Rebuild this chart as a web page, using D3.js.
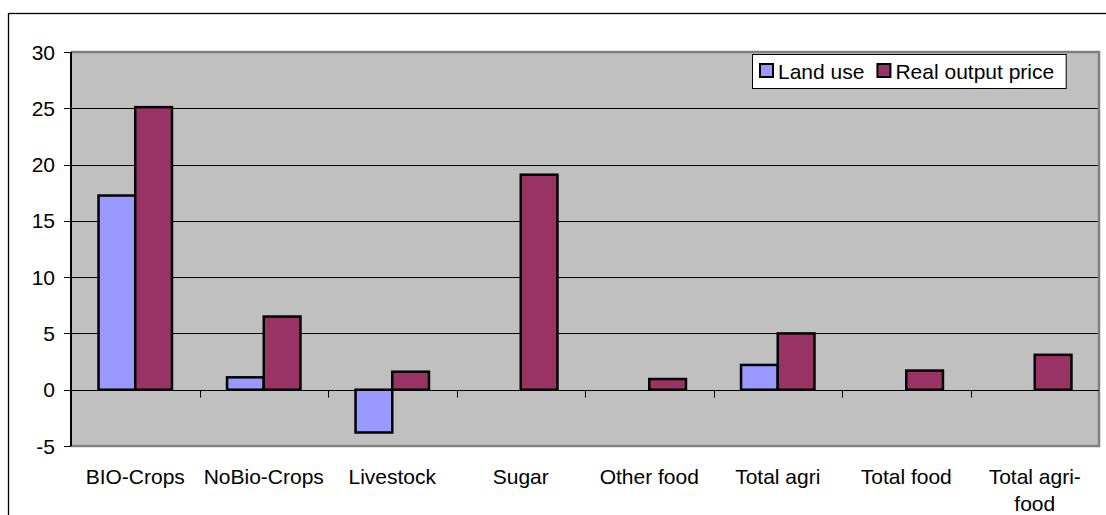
<!DOCTYPE html>
<html>
<head>
<meta charset="utf-8">
<script src="https://cdn.jsdelivr.net/npm/d3@7"></script>
<style>
  body { margin: 0; background: #fff; }
  text { font-family: "Liberation Sans", Arial, sans-serif; fill: #000; }
</style>
</head>
<body>
<div id="chart"></div>
<script>
// ---------------- DATA ----------------
const categories = ["BIO-Crops", "NoBio-Crops", "Livestock", "Sugar", "Other food", "Total agri", "Total food", "Total agri-food"];
const seriesNames = ["Land use", "Real output price"];
const landUse = [17.25, 1.1, -3.8, 0, 0, 2.2, 0, 0];
const realOutputPrice = [25.1, 6.5, 1.6, 19.1, 0.95, 5.0, 1.7, 3.1];
const yTicks = [-5, 0, 5, 10, 15, 20, 25, 30];
const colors = ["#9999FF", "#993366"];

const width = 1106;
const height = 515;
const plot = { left: 71, top: 52, right: 1099, bottom: 446 };
const fontSize = "21px";

const svg = d3.select("#chart").append("svg")
  .attr("width", width)
  .attr("height", height);

// outer chart border (runs off the right and bottom edges)
svg.append("rect")
  .attr("x", 8.5).attr("y", 13.5)
  .attr("width", width + 20).attr("height", height + 20)
  .attr("fill", "#fff").attr("stroke", "#000").attr("stroke-width", 1.3);

const y = d3.scaleLinear().domain([-5, 30]).range([plot.bottom, plot.top]);
const x = d3.scaleBand().domain(categories).range([plot.left, plot.right]);
const xInner = d3.scaleBand().domain(seriesNames).range([0, x.bandwidth()])
  .paddingInner(0).paddingOuter(0.75);

// plot background
svg.append("rect")
  .attr("x", plot.left).attr("y", plot.top)
  .attr("width", plot.right - plot.left).attr("height", plot.bottom - plot.top)
  .attr("fill", "#C0C0C0");

// gridlines
svg.append("g")
  .selectAll("line")
  .data(yTicks.filter((t) => t > 0 && t < 30))
  .enter()
  .append("line")
  .attr("x1", plot.left).attr("x2", plot.right)
  .attr("y1", (d) => Math.round(y(d)) + 0.5).attr("y2", (d) => Math.round(y(d)) + 0.5)
  .attr("stroke", "#000").attr("stroke-width", 1);

// plot border (gray top/right/bottom)
svg.append("path")
  .attr("d", `M${plot.left},${plot.top}H${plot.right}V${plot.bottom}H${plot.left}`)
  .attr("fill", "none").attr("stroke", "#808080").attr("stroke-width", 2.5);

// bars
const rows = categories.map((c, i) => ({ category: c, values: [landUse[i], realOutputPrice[i]] }));
const groups = svg.append("g")
  .selectAll("g")
  .data(rows)
  .enter()
  .append("g")
  .attr("transform", (d) => `translate(${x(d.category)},0)`);

groups.selectAll("rect")
  .data((d) => d.values.map((v, j) => ({ name: seriesNames[j], value: v, color: colors[j] })))
  .enter()
  .filter((d) => d.value !== 0)
  .append("rect")
  .attr("x", (d) => xInner(d.name))
  .attr("y", (d) => y(Math.max(0, d.value)))
  .attr("width", xInner.bandwidth())
  .attr("height", (d) => Math.abs(y(d.value) - y(0)))
  .attr("fill", (d) => d.color)
  .attr("stroke", "#000")
  .attr("stroke-width", 2.5);

// zero line / category axis
const zeroY = Math.round(y(0)) + 0.5;
svg.append("line")
  .attr("x1", plot.left - 7).attr("x2", plot.right)
  .attr("y1", zeroY).attr("y2", zeroY)
  .attr("stroke", "#000").attr("stroke-width", 1);

svg.append("g")
  .selectAll("line")
  .data(categories.slice(1))
  .enter()
  .append("line")
  .attr("x1", (d) => Math.round(x(d)) + 0.5).attr("x2", (d) => Math.round(x(d)) + 0.5)
  .attr("y1", zeroY).attr("y2", zeroY + 7)
  .attr("stroke", "#000");

// value axis
const yAxis = svg.append("g");
yAxis.append("line")
  .attr("x1", plot.left).attr("x2", plot.left)
  .attr("y1", plot.top).attr("y2", plot.bottom)
  .attr("stroke", "#000").attr("stroke-width", 2);

yAxis.selectAll("line.tick")
  .data(yTicks)
  .enter()
  .append("line")
  .attr("class", "tick")
  .attr("x1", plot.left - 7).attr("x2", plot.left)
  .attr("y1", (d) => Math.round(y(d)) + 0.5).attr("y2", (d) => Math.round(y(d)) + 0.5)
  .attr("stroke", "#000");

yAxis.selectAll("text")
  .data(yTicks)
  .enter()
  .append("text")
  .attr("x", 55)
  .attr("y", (d) => y(d) + 7.5)
  .attr("text-anchor", "end")
  .style("font-size", fontSize)
  .text((d) => d);

// category labels (wrap long ones like Excel)
const labelLines = (c) => (c === "Total agri-food" ? ["Total agri-", "food"] : [c]);
svg.append("g")
  .selectAll("text")
  .data(categories)
  .enter()
  .append("text")
  .attr("text-anchor", "middle")
  .style("font-size", fontSize)
  .each(function (d) {
    const t = d3.select(this);
    labelLines(d).forEach((line, k) => {
      t.append("tspan")
        .attr("x", x(d) + x.bandwidth() / 2)
        .attr("y", 484 + k * 27)
        .text(line);
    });
  });

// legend
const legend = svg.append("g");
const legendBox = legend.append("rect")
  .attr("x", 752.5).attr("y", 54.5)
  .attr("height", 34)
  .attr("fill", "#fff").attr("stroke", "#000").attr("stroke-width", 1);

let lx = 759;
seriesNames.forEach((name, i) => {
  legend.append("rect")
    .attr("x", lx + 1).attr("y", 64)
    .attr("width", 13).attr("height", 13)
    .attr("fill", colors[i]).attr("stroke", "#000").attr("stroke-width", 2);
  const txt = legend.append("text")
    .attr("x", lx + 19).attr("y", 78.5)
    .style("font-size", fontSize)
    .text(name);
  lx += 19 + txt.node().getComputedTextLength() + 12;
});
legendBox.attr("width", lx - 752.5);
</script>
</body>
</html>
